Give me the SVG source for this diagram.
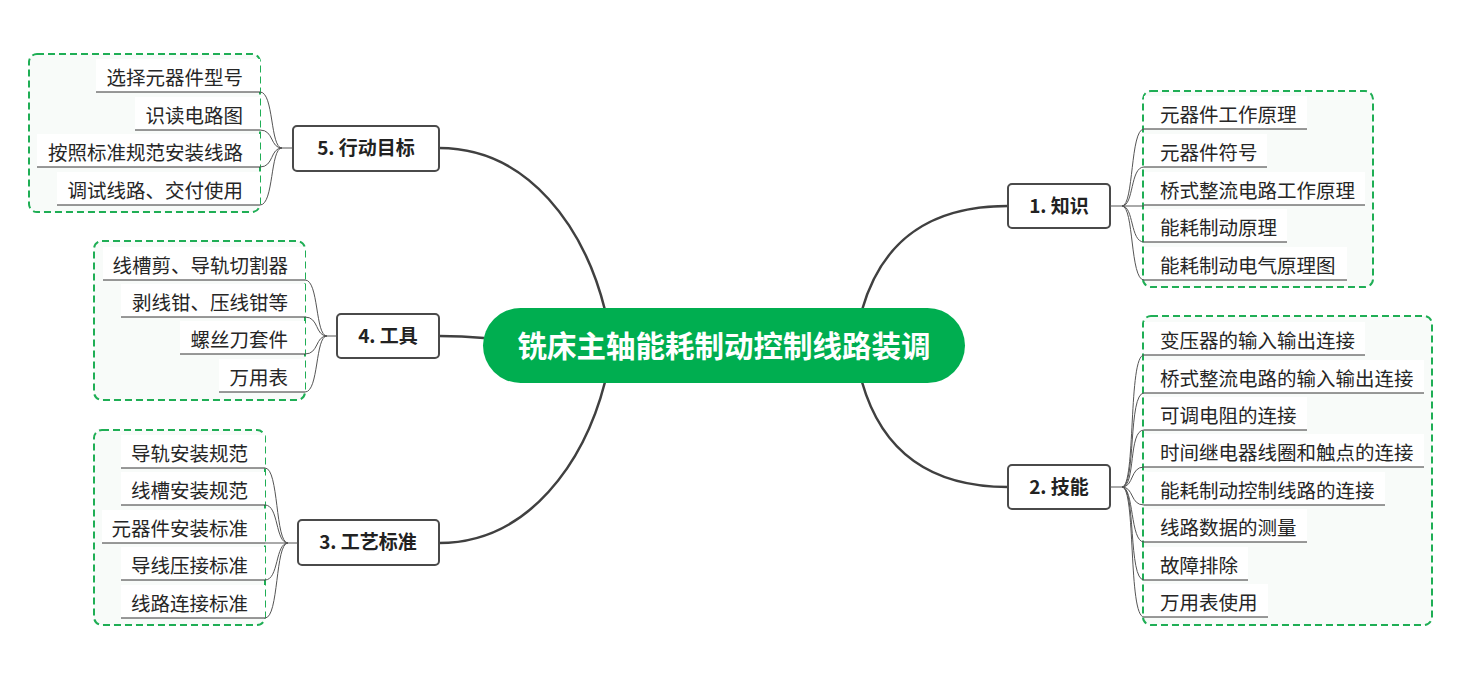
<svg xmlns="http://www.w3.org/2000/svg" width="1462" height="673" viewBox="0 0 1462 673">
<style>
.bg{fill:#ffffff}
.main{fill:none;stroke:#404040;stroke-width:2.5}
.sub{fill:none;stroke:#555555;stroke-width:1}
.ul{stroke:#333333;stroke-width:1}
.box{fill:#f8fbf9;stroke:#1fae55;stroke-width:2;stroke-dasharray:7 4}
.leafbg{fill:#ffffff}
.node{fill:#ffffff;stroke:#4a4a4a;stroke-width:2}
.nt{font-family:"Noto Sans CJK SC","Microsoft YaHei",sans-serif;font-size:19px;font-weight:bold;fill:#222;text-anchor:middle}
.lt{font-family:"Noto Sans CJK SC","Microsoft YaHei",sans-serif;font-size:19.5px;fill:#262626}
.le{text-anchor:end}
.ct{font-family:"Noto Sans CJK SC","Microsoft YaHei",sans-serif;font-size:29.5px;font-weight:bold;fill:#ffffff;text-anchor:middle}
</style>
<rect class="bg" x="0" y="0" width="1462" height="673"/>

<g id="connectors">
<path class="main" d="M862,310 C882,240 930,206 1008,206"/>
<path class="main" d="M862,382 C882,452 930,487 1008,487"/>
<path class="main" d="M605,310 C585,230 530,148 439,148"/>
<path class="main" d="M484,338 Q462,336 439,336"/>
<path class="main" d="M605,382 C585,460 530,543 439,543"/>
</g>

<g id="box1">
<rect class="box" x="1143" y="91" width="230" height="196" rx="8"/>
</g>
<g id="box2">
<rect class="box" x="1143" y="316" width="289" height="309" rx="8"/>
</g>
<g id="box5">
<rect class="box" x="29" y="54" width="231" height="158" rx="8"/>
</g>
<g id="box4">
<rect class="box" x="94" y="241" width="211" height="159" rx="8"/>
</g>
<g id="box3">
<rect class="box" x="94" y="430" width="171" height="195" rx="8"/>
</g>

<g id="center">
<rect x="483" y="308" width="482" height="75" rx="37.5" fill="#00ae50"/>
<text class="ct" x="724" y="357">铣床主轴能耗制动控制线路装调</text>
</g>

<g id="node1">
<rect class="node" x="1008" y="184" width="102" height="44" rx="4"/>
<text class="nt" x="1059" y="213">1. 知识</text>
</g>
<g id="node2">
<rect class="node" x="1008" y="465" width="102" height="44" rx="4"/>
<text class="nt" x="1059" y="494">2. 技能</text>
</g>
<g id="node5">
<rect class="node" x="293" y="126" width="146" height="45" rx="4"/>
<text class="nt" x="366" y="155">5. 行动目标</text>
</g>
<g id="node4">
<rect class="node" x="337" y="314" width="102" height="44" rx="4"/>
<text class="nt" x="388" y="343">4. 工具</text>
</g>
<g id="node3">
<rect class="node" x="298" y="520" width="141" height="45" rx="4"/>
<text class="nt" x="368" y="549">3. 工艺标准</text>
</g>

<g id="leaves1">
<path class="sub" d="M1110,206 H1122"/>
<path class="sub" d="M1122,206 C1134,206 1130,129 1144,129"/>
<path class="sub" d="M1122,206 C1134,206 1130,167 1144,167"/>
<path class="sub" d="M1122,206 H1144"/>
<path class="sub" d="M1122,206 C1134,206 1130,242 1144,242"/>
<path class="sub" d="M1122,206 C1134,206 1130,280 1144,280"/>
<g id="l1a"><rect class="leafbg" x="1144" y="96" width="163" height="33"/><line class="ul" x1="1144" y1="129" x2="1307" y2="129"/><text class="lt" x="1160" y="122">元器件工作原理</text></g>
<g id="l1b"><rect class="leafbg" x="1144" y="134" width="123" height="33"/><line class="ul" x1="1144" y1="167" x2="1267" y2="167"/><text class="lt" x="1160" y="160">元器件符号</text></g>
<g id="l1c"><rect class="leafbg" x="1144" y="172" width="221" height="33"/><line class="ul" x1="1144" y1="205" x2="1365" y2="205"/><text class="lt" x="1160" y="198">桥式整流电路工作原理</text></g>
<g id="l1d"><rect class="leafbg" x="1144" y="209" width="143" height="33"/><line class="ul" x1="1144" y1="242" x2="1287" y2="242"/><text class="lt" x="1160" y="235">能耗制动原理</text></g>
<g id="l1e"><rect class="leafbg" x="1144" y="247" width="203" height="33"/><line class="ul" x1="1144" y1="280" x2="1347" y2="280"/><text class="lt" x="1160" y="273">能耗制动电气原理图</text></g>
</g>

<g id="leaves2">
<path class="sub" d="M1110,487 H1122"/>
<path class="sub" d="M1122,487 C1136,487 1128,355 1144,355"/>
<path class="sub" d="M1122,487 C1136,487 1128,393 1144,393"/>
<path class="sub" d="M1122,487 C1136,487 1128,430 1144,430"/>
<path class="sub" d="M1122,487 C1134,487 1130,467 1144,467"/>
<path class="sub" d="M1122,487 C1134,487 1130,505 1144,505"/>
<path class="sub" d="M1122,487 C1134,487 1130,542 1144,542"/>
<path class="sub" d="M1122,487 C1136,487 1128,580 1144,580"/>
<path class="sub" d="M1122,487 C1136,487 1128,617 1144,617"/>
<g id="l2a"><rect class="leafbg" x="1144" y="322" width="221" height="33"/><line class="ul" x1="1144" y1="355" x2="1365" y2="355"/><text class="lt" x="1160" y="348">变压器的输入输出连接</text></g>
<g id="l2b"><rect class="leafbg" x="1144" y="360" width="280" height="33"/><line class="ul" x1="1144" y1="393" x2="1424" y2="393"/><text class="lt" x="1160" y="386">桥式整流电路的输入输出连接</text></g>
<g id="l2c"><rect class="leafbg" x="1144" y="397" width="163" height="33"/><line class="ul" x1="1144" y1="430" x2="1307" y2="430"/><text class="lt" x="1160" y="423">可调电阻的连接</text></g>
<g id="l2d"><rect class="leafbg" x="1144" y="434" width="280" height="33"/><line class="ul" x1="1144" y1="467" x2="1424" y2="467"/><text class="lt" x="1160" y="460">时间继电器线圈和触点的连接</text></g>
<g id="l2e"><rect class="leafbg" x="1144" y="472" width="241" height="33"/><line class="ul" x1="1144" y1="505" x2="1385" y2="505"/><text class="lt" x="1160" y="498">能耗制动控制线路的连接</text></g>
<g id="l2f"><rect class="leafbg" x="1144" y="509" width="163" height="33"/><line class="ul" x1="1144" y1="542" x2="1307" y2="542"/><text class="lt" x="1160" y="535">线路数据的测量</text></g>
<g id="l2g"><rect class="leafbg" x="1144" y="547" width="104" height="33"/><line class="ul" x1="1144" y1="580" x2="1248" y2="580"/><text class="lt" x="1160" y="573">故障排除</text></g>
<g id="l2h"><rect class="leafbg" x="1144" y="584" width="124" height="33"/><line class="ul" x1="1144" y1="617" x2="1268" y2="617"/><text class="lt" x="1160" y="610">万用表使用</text></g>
</g>

<g id="leaves5">
<path class="sub" d="M293,148 H282"/>
<path class="sub" d="M282,148 C270,148 274,92 260,92"/>
<path class="sub" d="M282,148 C270,148 274,130 260,130"/>
<path class="sub" d="M282,148 C270,148 274,167 260,167"/>
<path class="sub" d="M282,148 C270,148 274,205 260,205"/>
<g id="l5a"><rect class="leafbg" x="96" y="59" width="164" height="33"/><line class="ul" x1="96" y1="92" x2="260" y2="92"/><text class="lt le" x="243" y="85">选择元器件型号</text></g>
<g id="l5b"><rect class="leafbg" x="135" y="97" width="125" height="33"/><line class="ul" x1="135" y1="130" x2="260" y2="130"/><text class="lt le" x="243" y="123">识读电路图</text></g>
<g id="l5c"><rect class="leafbg" x="37" y="134" width="223" height="33"/><line class="ul" x1="37" y1="167" x2="260" y2="167"/><text class="lt le" x="243" y="160">按照标准规范安装线路</text></g>
<g id="l5d"><rect class="leafbg" x="57" y="172" width="203" height="33"/><line class="ul" x1="57" y1="205" x2="260" y2="205"/><text class="lt le" x="243" y="198">调试线路、交付使用</text></g>
</g>

<g id="leaves4">
<path class="sub" d="M337,336 H327"/>
<path class="sub" d="M327,336 C315,336 319,280 305,280"/>
<path class="sub" d="M327,336 C315,336 319,317 305,317"/>
<path class="sub" d="M327,336 C315,336 319,354 305,354"/>
<path class="sub" d="M327,336 C315,336 319,392 305,392"/>
<g id="l4a"><rect class="leafbg" x="103" y="247" width="202" height="33"/><line class="ul" x1="103" y1="280" x2="305" y2="280"/><text class="lt le" x="288" y="273">线槽剪、导轨切割器</text></g>
<g id="l4b"><rect class="leafbg" x="121" y="284" width="184" height="33"/><line class="ul" x1="121" y1="317" x2="305" y2="317"/><text class="lt le" x="288" y="310">剥线钳、压线钳等</text></g>
<g id="l4c"><rect class="leafbg" x="180" y="321" width="125" height="33"/><line class="ul" x1="180" y1="354" x2="305" y2="354"/><text class="lt le" x="288" y="347">螺丝刀套件</text></g>
<g id="l4d"><rect class="leafbg" x="219" y="359" width="86" height="33"/><line class="ul" x1="219" y1="392" x2="305" y2="392"/><text class="lt le" x="288" y="385">万用表</text></g>
</g>

<g id="leaves3">
<path class="sub" d="M298,543 H288"/>
<path class="sub" d="M288,543 C275,543 279,468 265,468"/>
<path class="sub" d="M288,543 C275,543 279,505 265,505"/>
<path class="sub" d="M288,543 H265"/>
<path class="sub" d="M288,543 C275,543 279,580 265,580"/>
<path class="sub" d="M288,543 C275,543 279,618 265,618"/>
<g id="l3a"><rect class="leafbg" x="121" y="435" width="144" height="33"/><line class="ul" x1="121" y1="468" x2="265" y2="468"/><text class="lt le" x="248" y="461">导轨安装规范</text></g>
<g id="l3b"><rect class="leafbg" x="121" y="472" width="144" height="33"/><line class="ul" x1="121" y1="505" x2="265" y2="505"/><text class="lt le" x="248" y="498">线槽安装规范</text></g>
<g id="l3c"><rect class="leafbg" x="102" y="510" width="163" height="33"/><line class="ul" x1="102" y1="543" x2="265" y2="543"/><text class="lt le" x="248" y="536">元器件安装标准</text></g>
<g id="l3d"><rect class="leafbg" x="121" y="547" width="144" height="33"/><line class="ul" x1="121" y1="580" x2="265" y2="580"/><text class="lt le" x="248" y="573">导线压接标准</text></g>
<g id="l3e"><rect class="leafbg" x="121" y="585" width="144" height="33"/><line class="ul" x1="121" y1="618" x2="265" y2="618"/><text class="lt le" x="248" y="611">线路连接标准</text></g>
</g>
</svg>
